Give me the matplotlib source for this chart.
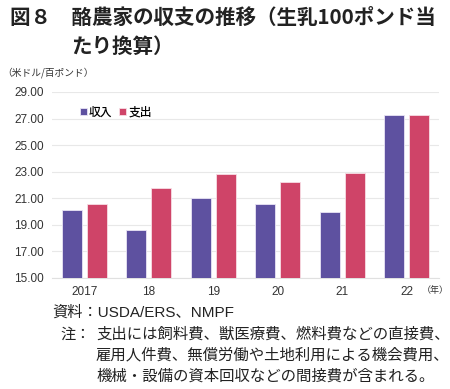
import numpy as np
import matplotlib
matplotlib.use("Agg")
import matplotlib.pyplot as plt

plt.rcParams['font.family'] = ['Noto Sans CJK JP', 'DejaVu Sans']

# データ
years = ['2017', '18', '19', '20', '21', '22']
income = [20.1, 18.6, 21.0, 20.6, 20.0, 27.3]
expense = [20.6, 21.8, 22.8, 22.2, 22.9, 27.3]
yticks = [15, 17, 19, 21, 23, 25, 27, 29]

c_income = '#5E51A0'
c_expense = '#CF4468'

fig = plt.figure(figsize=(4.5, 3.89), dpi=100)
ax = fig.add_axes([52 / 450, 1 - 278 / 389, 387 / 450, 186 / 389])

x = np.arange(len(years))
w = 0.31
ax.bar(x - 0.195, [v - 15 for v in income], w, bottom=15, color=c_income,
       edgecolor='#E9E4F5', linewidth=0.6, label='収入', zorder=3)
ax.bar(x + 0.195, [v - 15 for v in expense], w, bottom=15, color=c_expense,
       edgecolor='#F7DDE5', linewidth=0.6, label='支出', zorder=3)

ax.set_xlim(-0.5, len(years) - 0.5)
ax.set_ylim(15, 29)
ax.set_yticks(yticks)
ax.set_yticklabels([f'{v:.2f}' for v in yticks], fontsize=8.5, color='#333333',
                   family='Liberation Sans')
ax.set_xticks(x)
ax.set_xticklabels(years, fontsize=8.5, color='#333333', family='Liberation Sans')
ax.tick_params(length=0, pad=6)
ax.grid(axis='y', color='#E8E8E8', linewidth=0.8, zorder=0)
for s in ['top', 'right', 'left']:
    ax.spines[s].set_visible(False)
ax.spines['bottom'].set_color('#E0E0E0')

leg = ax.legend(loc='upper left', bbox_to_anchor=(0.045, 0.985), ncol=2, frameon=False,
                handlelength=0.55, handleheight=0.55, handletextpad=0.2,
                columnspacing=0.6, prop={'weight': 'medium', 'size': 8.5})

# テキスト
fig.text(10 / 450, 1 - 17 / 389, '図８　酪農家の収支の推移（生乳100ポンド当',
         fontsize=14.8, fontweight='bold', va='center', ha='left', color='#222222')
fig.text(71 / 450, 1 - 46 / 389, 'たり換算）',
         fontsize=14.8, fontweight='bold', va='center', ha='left', color='#222222')
fig.text(2 / 450, 1 - 73 / 389, '（米ドル/百ポンド）', fontsize=7, va='center',
         ha='left', color='#333333')
fig.text(422 / 450, 1 - 291 / 389, '（年）', fontsize=6.5, va='center', ha='left',
         color='#333333')
fig.text(52 / 450, 1 - 313 / 389, '資料：USDA/ERS、NMPF', fontsize=11, va='center',
         ha='left', color='#222222', family=['Liberation Sans', 'Noto Sans CJK JP'])
fig.text(60 / 450, 1 - 334 / 389, '注：', fontsize=11, va='center', ha='left',
         color='#222222')
notes = ['支出には飼料費、獣医療費、燃料費などの直接費、',
         '雇用人件費、無償労働や土地利用による機会費用、',
         '機械・設備の資本回収などの間接費が含まれる。']
for i, line in enumerate(notes):
    fig.text(96 / 450, 1 - (334 + 21 * i) / 389, line, fontsize=11.1, va='center',
             ha='left', color='#222222')

fig.savefig('out.png', dpi=100)
